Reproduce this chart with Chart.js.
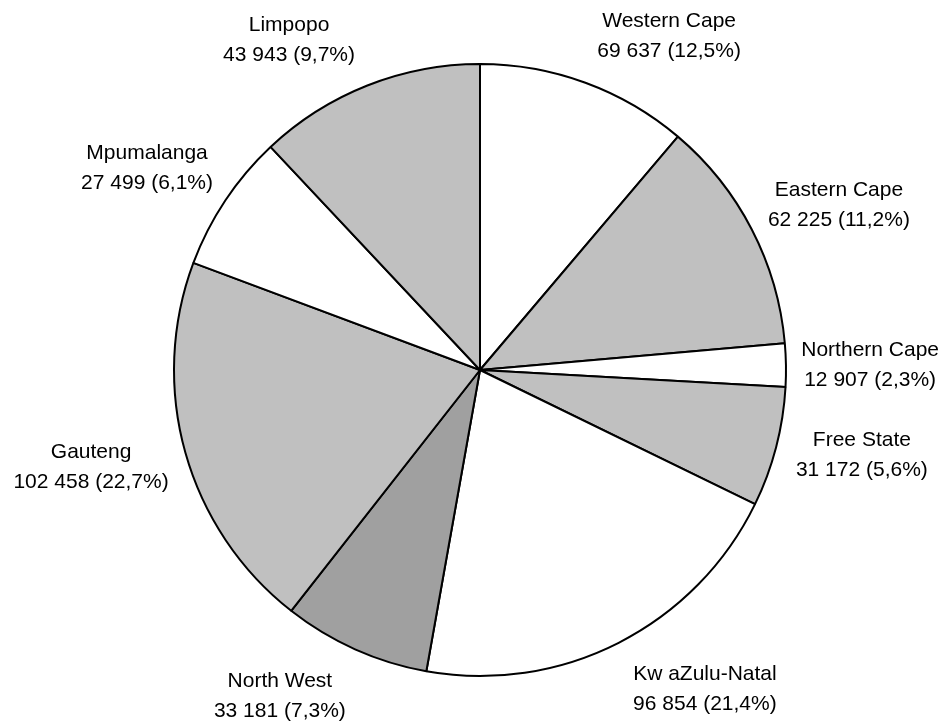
<!DOCTYPE html>
<html>
<head>
<meta charset="utf-8">
<script src="https://cdn.jsdelivr.net/npm/chart.js@4.4.0/dist/chart.umd.min.js"></script>
<style>
  html, body { margin: 0; padding: 0; background: #fff; }
  #wrap { width: 943px; height: 722px; }
</style>
</head>
<body>
<div id="wrap"><canvas id="pieChart" width="943" height="722"></canvas></div>
<script>
// provinces, clockwise from 12 o'clock
const provinces = ["Western Cape", "Eastern Cape", "Northern Cape", "Free State", "Kw aZulu-Natal",
                   "North West", "Gauteng", "Mpumalanga", "Limpopo"];
const valueText = ["69 637", "62 225", "12 907", "31 172", "96 854", "33 181", "102 458", "27 499", "43 943"];
const percentText = ["12,5%", "11,2%", "2,3%", "5,6%", "21,4%", "7,3%", "22,7%", "6,1%", "9,7%"];
// slice sizes as drawn in the picture (degrees of the circle)
const sliceDegrees = [40.3, 44.7, 8.2, 22.8, 74.1, 28.0, 72.4, 26.3, 43.2];

const sliceColors = ['#ffffff', '#c0c0c0', '#ffffff', '#c0c0c0', '#ffffff', '#a0a0a0', '#c0c0c0', '#ffffff', '#c0c0c0'];
// label block centre, relative to pie centre, in units of the radius
const labelOffsets = [[0.618, -1.090], [1.173, -0.540], [1.275, -0.015], [1.248, 0.280], [0.735, 1.044],
                      [-0.654, 1.066], [-1.271, 0.319], [-1.088, -0.658], [-0.624, -1.077]];

const labelPlugin = {
    id: 'outsideLabels',
    afterDatasetsDraw(chart) {
        const ctx = chart.ctx;
        const arcs = chart.getDatasetMeta(0).data;
        ctx.save();
        ctx.fillStyle = '#000';
        ctx.font = '21px "Liberation Sans", Arial, sans-serif';
        ctx.textAlign = 'center';
        ctx.textBaseline = 'middle';
        arcs.forEach((arc, i) => {
            const r = arc.outerRadius;
            const x = arc.x + labelOffsets[i][0] * r;
            const y = arc.y + labelOffsets[i][1] * r;
            ctx.fillText(provinces[i], x, y - 15);
            ctx.fillText(valueText[i] + " (" + percentText[i] + ")", x, y + 15);
        });
        ctx.restore();
    }
};

const bgPlugin = {
    id: 'whiteBg',
    beforeDraw(chart) {
        const ctx = chart.ctx;
        ctx.save();
        ctx.fillStyle = '#fff';
        ctx.fillRect(0, 0, chart.width, chart.height);
        ctx.restore();
    }
};

var chrt = document.getElementById("pieChart").getContext("2d");
var pieChart = new Chart(chrt, {
    type: 'pie',
    data: {
        labels: provinces,
        datasets: [{
            data: sliceDegrees,
            backgroundColor: sliceColors,
            borderColor: '#000',
            borderWidth: 2,
        }],
    },
    options: {
        responsive: false,
        animation: false,
        layout: { padding: { top: 63, bottom: 45, left: 173, right: 156 } },
        plugins: {
            legend: { display: false },
            tooltip: { enabled: false },
        },
    },
    plugins: [bgPlugin, labelPlugin],
});
</script>
</body>
</html>
